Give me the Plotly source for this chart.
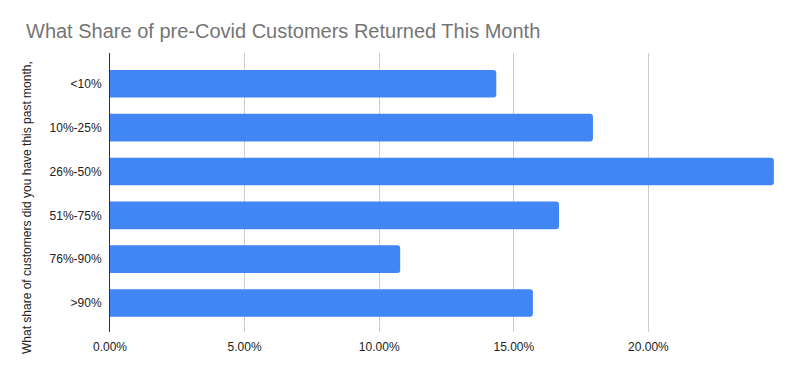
import plotly.graph_objects as go

categories = ["<10%", "10%-25%", "26%-50%", "51%-75%", "76%-90%", ">90%"]
shares = [0.1435, 0.1794, 0.2466, 0.1668, 0.1078, 0.1571]
tick_vals = [0, 0.05, 0.10, 0.15, 0.20, 0.25]
tick_text = ["0.00%", "5.00%", "10.00%", "15.00%", "20.00%", ""]

# page has an 8px body margin; compensate so the figure fills the 802x371 window
OFF = 8
W, H = 802 - OFF, 371 - OFF
L, R, T, B = 110 - OFF, 19, 53 - OFF, 39
pw, ph = W - L - R, H - T - B

fig = go.Figure(go.Bar(
    x=shares, y=list(range(len(categories))), orientation="h",
    marker=dict(color="#4285F4", line=dict(width=0)),
    width=0.63, hoverinfo="x",
))

fig.update_layout(
    width=W, height=H,
    margin=dict(l=L, r=R, t=T, b=B, autoexpand=False),
    paper_bgcolor="white", plot_bgcolor="white",
    barcornerradius=3,
    showlegend=False,
    font=dict(family="Liberation Sans, Arial, sans-serif", size=12, color="#222222"),
    title=dict(text="What Share of pre-Covid Customers Returned This Month",
               x=(26 - OFF) / W, xanchor="left", y=1 - (31 - OFF) / H, yanchor="middle",
               font=dict(size=20, color="#757575")),
    xaxis=dict(range=[0, 0.25], tickvals=tick_vals, ticktext=tick_text,
               showgrid=True, gridcolor="#cccccc", gridwidth=1,
               zeroline=False, showline=False, ticks="", ticklabelstandoff=6,
               tickfont=dict(size=12, color="#222222")),
    yaxis=dict(range=[5.66, -0.70], tickvals=list(range(len(categories))),
               ticktext=categories, showgrid=False, zeroline=False,
               showline=True, linecolor="#333333", linewidth=1,
               ticks="", ticklabelstandoff=5,
               tickfont=dict(size=12, color="#222222")),
    annotations=[dict(
        text="What share of customers did you have this past month,",
        textangle=-90,
        x=(27 - OFF - L) / pw, y=(371 - B - 208) / ph,
        xref="paper", yref="paper",
        xanchor="center", yanchor="middle", showarrow=False,
        font=dict(size=12, color="#222222"),
    )],
)

fig.write_html("out.html")
